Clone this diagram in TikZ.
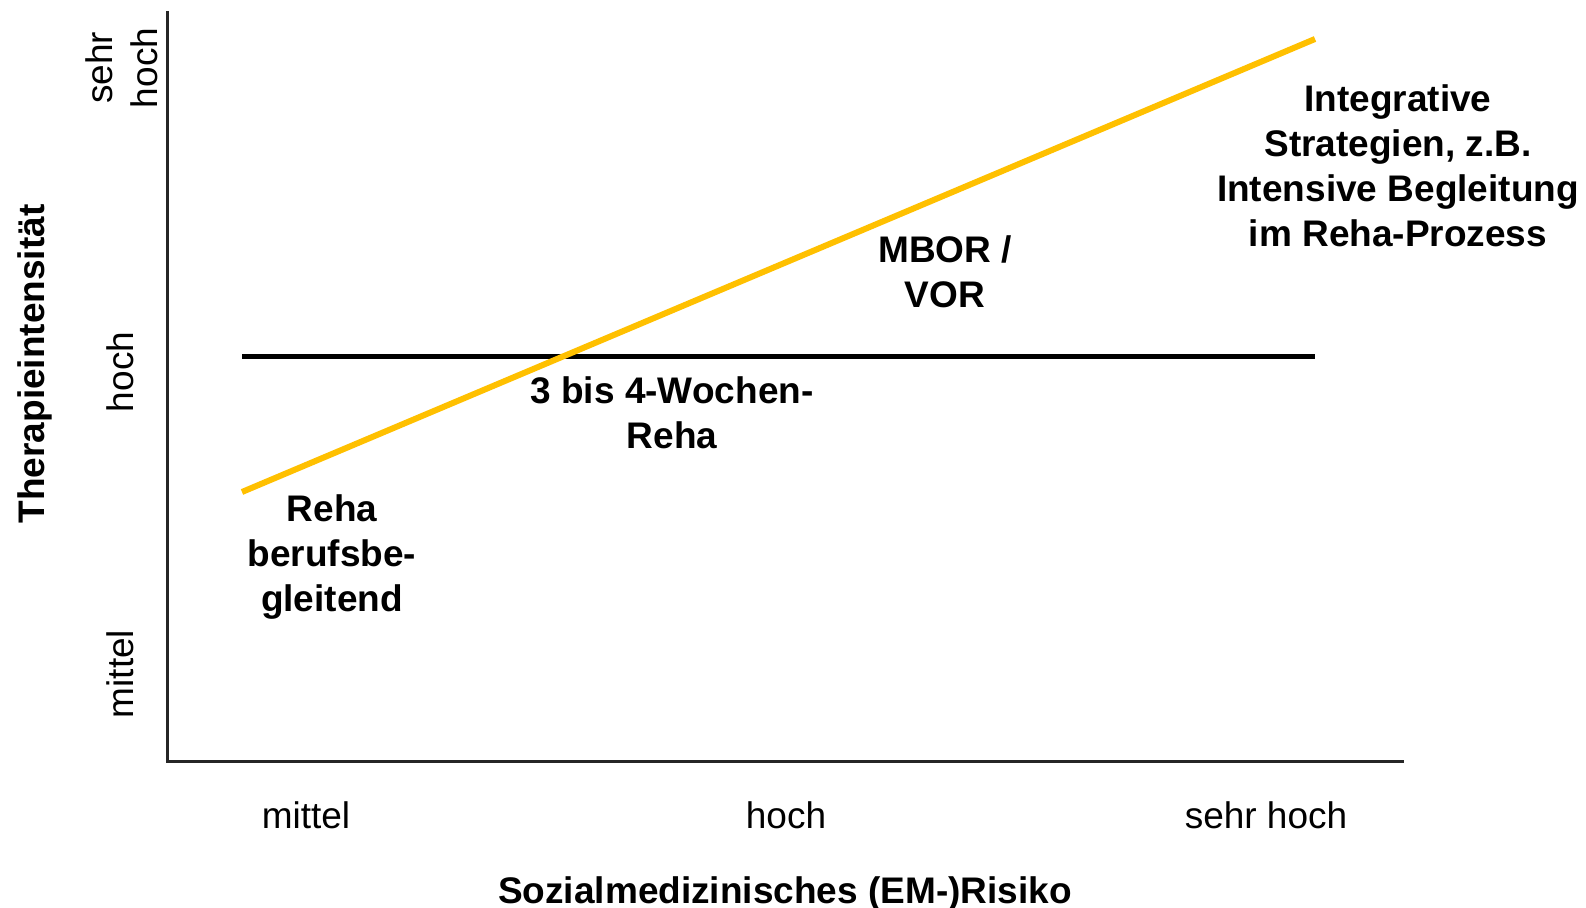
\documentclass[tikz,border=0pt]{standalone}
\usepackage{fontspec}
\setmainfont{Liberation Sans}
\definecolor{gelb}{HTML}{FFC000}
\begin{document}
\begin{tikzpicture}[x=0.5pt,y=-0.5pt,
  lbl/.style={inner sep=0pt, font=\fontsize{18.5}{22.5}\selectfont, align=center, anchor=base},
  blbl/.style={lbl, font=\fontsize{18.5}{22.5}\selectfont\bfseries},
  axis/.style={line width=1.5pt, draw=black!85},
  level/.style={line width=2.5pt, draw=black},
  trend/.style={line width=3pt, draw=gelb}]
\useasboundingbox (0,0) rectangle (1586,908);
% axes
\coordinate (ytop) at (167,11);
\coordinate (origin) at (167,762);
\coordinate (xend) at (1404,762);
\draw[axis] (ytop) -- (origin) -- (xend);
% level line and trend line
\coordinate (l1) at (242,357);
\coordinate (l2) at (1315,357);
\draw[level] (l1) -- (l2);
\coordinate (t1) at (242,492);
\coordinate (t2) at (1315,39);
\draw[trend] (t1) -- (t2);
% y-axis labels
\node[lbl, rotate=90] (ysh) at (157,68) {sehr\\hoch};
\node[lbl, rotate=90] (yh) at (133,372) {hoch};
\node[lbl, rotate=90] (ym) at (133,674) {mittel};
\node[blbl, rotate=90] (ytitle) at (44,364) {Therapieintensität};
% x-axis labels
\node[lbl] (xm) at (306,828) {mittel};
\node[lbl] (xh) at (786,828) {hoch};
\node[lbl] (xsh) at (1266,828) {sehr hoch};
\node[blbl] (xtitle) at (785,903) {Sozialmedizinisches (EM-)Risiko};
% region labels
\node[blbl] (reha) at (332,612) {Reha\\berufsbe-\\gleitend};
\node[blbl] (wochen) at (672,449) {3 bis 4-Wochen-\\Reha};
\node[blbl] (mbor) at (945,308) {MBOR /\\VOR};
\node[blbl] (integ) at (1398,247) {Integrative\\Strategien, z.B.\\Intensive Begleitung\\im Reha-Prozess};
\end{tikzpicture}
\end{document}
